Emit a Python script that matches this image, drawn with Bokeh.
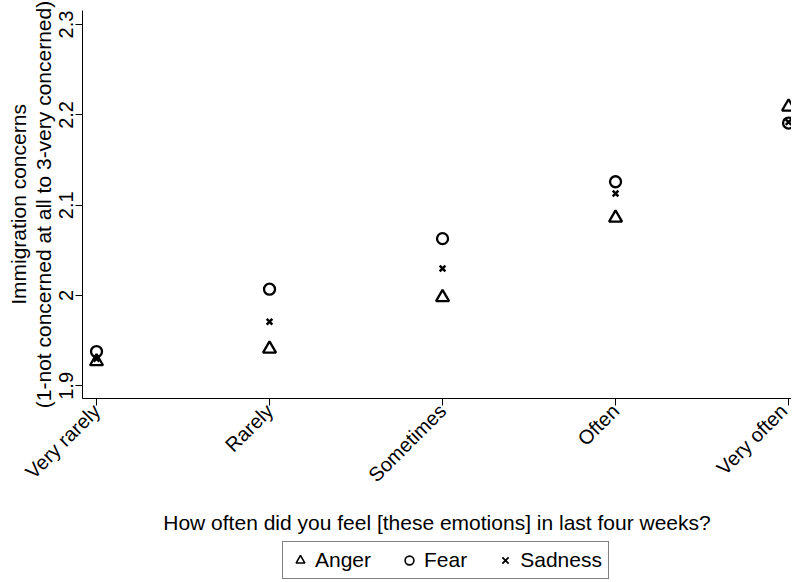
import math
from bokeh.plotting import figure
from bokeh.layouts import column
from bokeh.models import Range1d, FixedTicker, Legend, LegendItem, ColumnDataSource
from bokeh.embed import file_html
from bokeh.resources import INLINE

categories = ["Very rarely", "Rarely", "Sometimes", "Often", "Very often"]
x_pos = [1, 2, 3, 4, 5]
anger = [1.927, 1.941, 1.998, 2.086, 2.209]
fear = [1.938, 2.007, 2.063, 2.126, 2.191]
sadness = [1.930, 1.971, 2.030, 2.113, 2.192]
y_ticks = [1.9, 2.0, 2.1, 2.2, 2.3]
y_tick_labels = ["1.9", "2", "2.1", "2.2", "2.3"]
series_names = ["Anger", "Fear", "Sadness"]

FONT = "Liberation Sans"
FS = "20px"
FS_T = "21px"

src = ColumnDataSource(dict(x=x_pos, anger=anger, fear=fear, sadness=sadness))

p = figure(frame_width=709, frame_height=388, output_backend="svg", toolbar_location=None,
           x_range=Range1d(0.919, 5.017), y_range=Range1d(1.886, 2.3156),
           min_border_left=82, min_border_right=0, min_border_top=10,
           min_border_bottom=132)
p.outline_line_color = None
p.xgrid.visible = False
p.ygrid.visible = False
p.background_fill_color = "white"
p.border_fill_color = "white"

TRI = dict(marker="triangle", size=13, line_color="black", fill_color=None, line_width=2.3)
CIR = dict(marker="circle", size=11, line_color="black", fill_color=None, line_width=2.3)
CRS = dict(marker="x", size=8, line_color="black", line_width=2.5)

p.scatter("x", "anger", source=src, **TRI)
p.scatter("x", "fear", source=src, **CIR)
p.scatter("x", "sadness", source=src, **CRS)

# x axis
xa = p.xaxis[0]
xa.ticker = FixedTicker(ticks=x_pos)
xa.major_label_overrides = {x: c for x, c in zip(x_pos, categories)}
xa.major_label_orientation = math.pi / 4
xa.major_label_text_font = FONT
xa.major_label_text_font_size = FS
xa.major_label_text_color = "black"
xa.major_label_standoff = 2
xa.axis_label = "How often did you feel [these emotions] in last four weeks?"
xa.axis_label_text_font = FONT
xa.axis_label_text_font_size = FS_T
xa.axis_label_text_font_style = "normal"
xa.axis_label_text_color = "black"
xa.axis_label_standoff = 14
xa.minor_tick_line_color = None
xa.major_tick_out = 7
xa.major_tick_in = 0
xa.axis_line_color = "black"
xa.major_tick_line_color = "black"

# y axis
ya = p.yaxis[0]
ya.ticker = FixedTicker(ticks=y_ticks)
ya.major_label_overrides = {t: l for t, l in zip(y_ticks, y_tick_labels)}
ya.major_label_orientation = "vertical"
ya.major_label_text_font = FONT
ya.major_label_text_font_size = FS
ya.major_label_text_color = "black"
ya.major_label_standoff = 2
ya.axis_label = "Immigration concerns\n(1-not concerned at all to 3-very concerned)"
ya.axis_label_text_font = FONT
ya.axis_label_text_font_size = FS_T
ya.axis_label_text_line_height = 1.05
ya.axis_label_text_font_style = "normal"
ya.axis_label_text_color = "black"
ya.axis_label_standoff = 2
ya.minor_tick_line_color = None
ya.major_tick_out = 7
ya.major_tick_in = 0
ya.axis_line_color = "black"
ya.major_tick_line_color = "black"

# legend strip below the chart (proxy glyphs lie outside its visible range)
p2 = figure(width=791, height=44, output_backend="svg", toolbar_location=None,
            x_axis_type=None, y_axis_type=None,
            x_range=Range1d(0, 1), y_range=Range1d(0, 1),
            min_border_left=0, min_border_right=0, min_border_top=0, min_border_bottom=0)
p2.outline_line_color = None
p2.xgrid.visible = False
p2.ygrid.visible = False
p2.border_fill_color = "white"
proxy = ColumnDataSource(dict(x=[-5], y=[-5]))
l_a = p2.scatter("x", "y", source=proxy, marker="triangle", size=9,
                 line_color="black", fill_color=None, line_width=1.6)
l_f = p2.scatter("x", "y", source=proxy, marker="circle", size=8,
                 line_color="black", fill_color=None, line_width=1.6)
l_s = p2.scatter("x", "y", source=proxy, marker="x", size=6,
                 line_color="black", line_width=1.8)

legend = Legend(items=[LegendItem(label=series_names[0], renderers=[l_a]),
                       LegendItem(label=series_names[1], renderers=[l_f]),
                       LegendItem(label=series_names[2], renderers=[l_s])],
                orientation="horizontal", location=(200, 1))
legend.label_text_font = FONT
legend.label_text_font_size = FS_T
legend.label_text_color = "black"
legend.border_line_color = "black"
legend.border_line_width = 1
legend.glyph_width = 22
legend.glyph_height = 22
legend.label_height = 22
legend.spacing = 27
legend.padding = 6
legend.margin = 0
legend.label_standoff = 4
legend.background_fill_alpha = 1
p2.add_layout(legend)

layout = column(p, p2, spacing=0)
open("out.html", "w").write(file_html(layout, INLINE))
